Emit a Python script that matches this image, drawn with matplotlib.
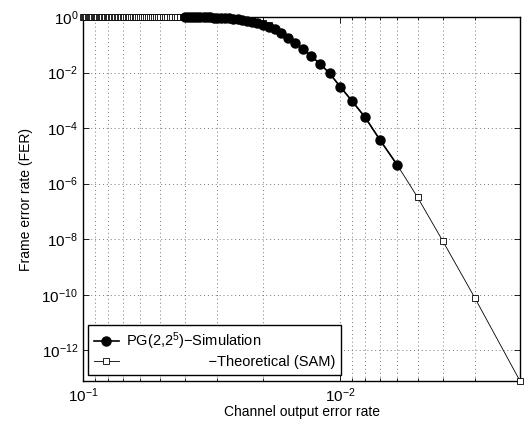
import matplotlib
matplotlib.use("Agg")
import matplotlib.pyplot as plt
from matplotlib.ticker import LogLocator, FixedLocator, NullFormatter, NullLocator

plt.rcParams['font.family'] = ['Liberation Sans', 'DejaVu Sans']
plt.rcParams['mathtext.fontset'] = 'custom'
plt.rcParams['mathtext.rm'] = 'Liberation Sans'
plt.rcParams['mathtext.it'] = 'Liberation Sans:italic'
plt.rcParams['mathtext.bf'] = 'Liberation Sans:bold'

# channel output error rate, simulated points (0.040 .. 0.006)
sim_p = [0.040, 0.039, 0.038, 0.037, 0.036, 0.035, 0.034, 0.033, 0.032, 0.031,
         0.030, 0.029, 0.028, 0.027, 0.026, 0.025, 0.024, 0.023, 0.022, 0.021,
         0.020, 0.019, 0.018, 0.017, 0.016, 0.015, 0.014, 0.013, 0.012, 0.011,
         0.010, 0.009, 0.008, 0.007, 0.006]
sim_fer = [0.995, 0.993, 0.99, 0.988, 0.985, 0.98, 0.975, 0.97, 0.96, 0.955,
           0.94, 0.93, 0.91, 0.89, 0.86, 0.82, 0.78, 0.73, 0.67, 0.60,
           0.52, 0.45, 0.36, 0.26, 0.18, 0.12, 0.069, 0.040, 0.021, 0.0094,
           0.0031, 9.5e-4, 2.45e-4, 3.7e-5, 4.7e-6]

# theoretical (SAM) points, 0.100 .. 0.002
theo_p = [0.100, 0.099, 0.098, 0.097, 0.096, 0.095, 0.094, 0.093, 0.092, 0.091,
          0.090, 0.089, 0.088, 0.087, 0.086, 0.085, 0.084, 0.083, 0.082, 0.081,
          0.080, 0.079, 0.078, 0.077, 0.076, 0.075, 0.074, 0.073, 0.072, 0.071,
          0.070, 0.069, 0.068, 0.067, 0.066, 0.065, 0.064, 0.063, 0.062, 0.061,
          0.060, 0.059, 0.058, 0.057, 0.056, 0.055, 0.054, 0.053, 0.052, 0.051,
          0.050, 0.049, 0.048, 0.047, 0.046, 0.045, 0.044, 0.043, 0.042, 0.041,
          0.040, 0.039, 0.038, 0.037, 0.036, 0.035, 0.034, 0.033, 0.032, 0.031,
          0.030, 0.029, 0.028, 0.027, 0.026, 0.025, 0.024, 0.023, 0.022, 0.021,
          0.020, 0.019, 0.018, 0.017, 0.016, 0.015, 0.014, 0.013, 0.012, 0.011,
          0.010, 0.009, 0.008, 0.007, 0.006, 0.005, 0.004, 0.003, 0.002]
theo_fer = [1.0, 1.0, 1.0, 1.0, 1.0, 1.0, 1.0, 1.0, 1.0, 1.0,
            1.0, 1.0, 1.0, 1.0, 1.0, 1.0, 1.0, 1.0, 1.0, 1.0,
            1.0, 1.0, 1.0, 1.0, 1.0, 1.0, 1.0, 1.0, 1.0, 1.0,
            1.0, 1.0, 1.0, 1.0, 1.0, 1.0, 1.0, 1.0, 1.0, 1.0,
            1.0, 1.0, 1.0, 1.0, 1.0, 1.0, 1.0, 1.0, 1.0, 1.0,
            1.0, 1.0, 1.0, 1.0, 0.999, 0.999, 0.999, 0.998, 0.998, 0.997,
            0.996, 0.995, 0.993, 0.99, 0.987, 0.983, 0.978, 0.972, 0.965, 0.955,
            0.945, 0.93, 0.915, 0.895, 0.87, 0.84, 0.80, 0.76, 0.71, 0.66,
            0.60, 0.50, 0.38, 0.27, 0.185, 0.12, 0.07, 0.040, 0.021, 0.0094,
            0.0031, 9.5e-4, 2.45e-4, 3.7e-5, 4.7e-6, 3.2e-7, 8.9e-9, 7.9e-11, 7.9e-14]

fig = plt.figure(figsize=(5.31, 4.24), dpi=100)
ax = fig.add_axes([0.1563, 0.1014, 0.823, 0.8585])

h_theo, = ax.plot(theo_p, theo_fer, color='black', linewidth=0.6, marker='s',
                  markersize=4, markerfacecolor='white', markeredgecolor='black',
                  markeredgewidth=0.6, clip_on=False, zorder=3,
                  label='                    \u2212Theoretical (SAM)')
h_sim, = ax.plot(sim_p, sim_fer, color='black', linewidth=1.2, marker='o',
                 markersize=6.5, markerfacecolor='black', markeredgecolor='black',
                 clip_on=False, zorder=4, label='PG(2,2$^5$)\u2212Simulation')

ax.set_xscale('log')
ax.set_yscale('log')
ax.set_xlim(0.1, 0.002)
ax.set_ylim(min(theo_fer), 1.0)

ax.xaxis.set_major_locator(FixedLocator([0.1, 0.01]))
ax.xaxis.set_minor_locator(LogLocator(base=10, subs=range(2, 10)))
ax.xaxis.set_minor_formatter(NullFormatter())
ax.set_xticklabels([r'$10^{-1}$', r'$10^{-2}$'])
ax.yaxis.set_major_locator(FixedLocator([1e0, 1e-2, 1e-4, 1e-6, 1e-8, 1e-10, 1e-12]))
ax.set_yticklabels([r'$10^{0}$', r'$10^{-2}$', r'$10^{-4}$', r'$10^{-6}$',
                    r'$10^{-8}$', r'$10^{-10}$', r'$10^{-12}$'])
ax.yaxis.set_minor_locator(NullLocator())

ax.tick_params(which='both', direction='in', top=True, right=True, labelsize=11)
ax.tick_params(which='major', length=4, width=0.6)
ax.tick_params(which='minor', length=2.5, width=0.6)
ax.tick_params(axis='x', pad=4)

grid_style = dict(linestyle=(0, (1, 3)), color='#777777', linewidth=0.7)
ax.grid(True, which='major', **grid_style)
ax.grid(True, which='minor', axis='x', **grid_style)
for s in ax.spines.values():
    s.set_linewidth(1.0)

ax.set_xlabel('Channel output error rate', fontsize=10, labelpad=0)
ax.set_ylabel('Frame error rate (FER)', fontsize=10, labelpad=6)

leg = ax.legend(handles=[h_sim, h_theo], loc='lower left',
                bbox_to_anchor=(0.0114, 0.0165), fontsize=10.5, fancybox=False,
                framealpha=1, edgecolor='black', handlelength=1.7,
                handletextpad=0.5, borderaxespad=0, labelspacing=0.2)
leg.get_frame().set_linewidth(1.0)
leg.set_zorder(5)

fig.savefig('out.png', dpi=100)
